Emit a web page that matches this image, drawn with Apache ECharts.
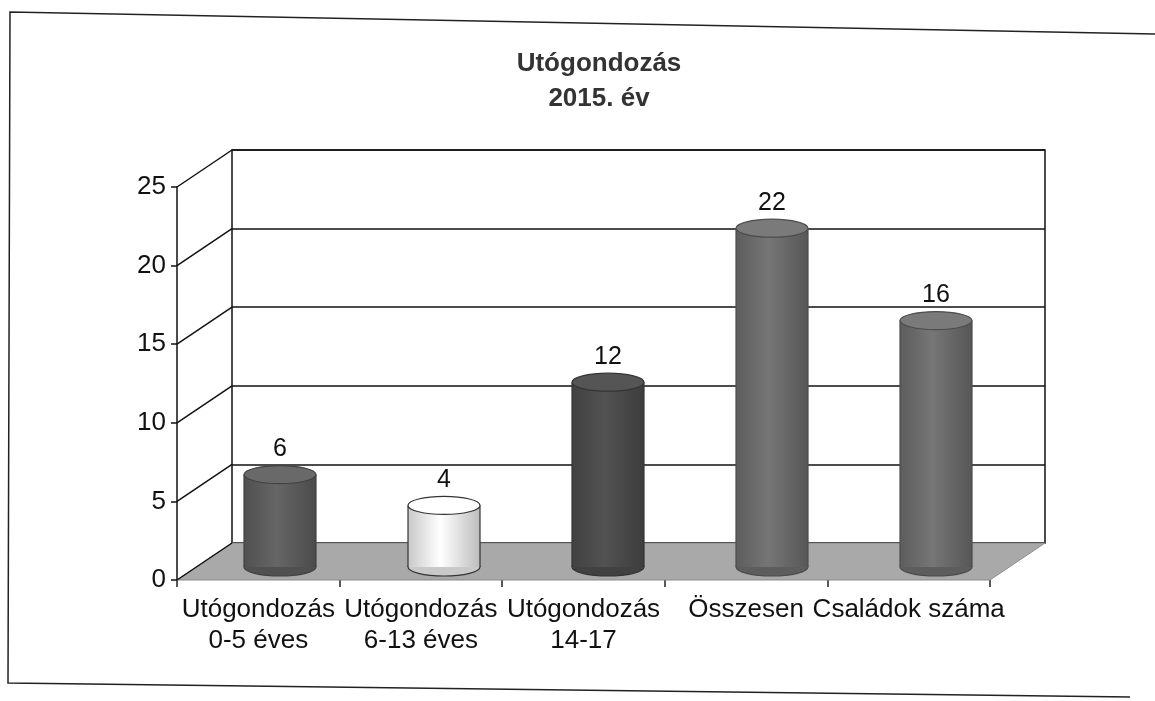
<!DOCTYPE html>
<html>
<head>
<meta charset="utf-8">
<script src="https://cdn.jsdelivr.net/npm/echarts@6/dist/echarts.min.js"></script>
<style>
  html, body { margin: 0; padding: 0; background: #fff; }
  #chart { width: 1155px; height: 701px; }
</style>
</head>
<body>
<div id="chart"></div>
<script>
const categories = ['Utógondozás\n0-5 éves', 'Utógondozás\n6-13 éves', 'Utógondozás\n14-17', 'Összesen', 'Családok száma'];
const values = [6, 4, 12, 22, 16];
const yTicks = [0, 5, 10, 15, 20, 25];
const barColors = ['#5e5e5e', '#ececec', '#4c4c4c', '#6d6d6d', '#6d6d6d'];

// depth offset of the back wall (3d look)
const DX = 55, DY = -37;
const FONT = '"Liberation Sans", Arial, sans-serif';

var myChart = echarts.init(document.getElementById('chart'));

function shade(hex, k) {
  var n = parseInt(hex.slice(1), 16);
  var r = Math.round(((n >> 16) & 255) * k), g = Math.round(((n >> 8) & 255) * k), b = Math.round((n & 255) * k);
  r = Math.min(255, r); g = Math.min(255, g); b = Math.min(255, b);
  return 'rgb(' + r + ',' + g + ',' + b + ')';
}

var option = {
  animation: false,
  title: {
    text: 'Utógondozás\n2015. év',
    left: 594,
    top: 41,
    textAlign: 'center',
    textStyle: { fontFamily: FONT, fontSize: 26, fontWeight: 'bold', color: '#333', lineHeight: 35 }
  },
  graphic: [{
    type: 'polyline',
    shape: { points: [[1155, 34], [10, 12], [8, 683], [1130, 697]] },
    style: { stroke: '#222', lineWidth: 1.5, fill: null },
    z: 0
  }],
  grid: [
    // back wall
    { left: 232, right: 110, top: 150, bottom: 158, show: true, borderColor: '#111', borderWidth: 1.5, backgroundColor: 'transparent' },
    // front axes
    { left: 177, right: 165, top: 187, bottom: 121 },
    // cylinders (middle depth)
    { left: 198, right: 137, top: 182, bottom: 134 }
  ],
  xAxis: [
    { gridIndex: 0, type: 'category', data: categories, show: false },
    {
      gridIndex: 1, type: 'category', data: categories,
      axisLine: { show: false },
      axisTick: { show: true, length: 7, lineStyle: { color: '#222', width: 1.5 } },
      axisLabel: { interval: 0, margin: 14, fontFamily: FONT, fontSize: 26, lineHeight: 31, color: '#111' }
    },
    { gridIndex: 2, type: 'category', data: categories, show: false }
  ],
  yAxis: [
    {
      gridIndex: 0, type: 'value', min: 0, max: 25, interval: 5,
      axisLine: { show: false }, axisTick: { show: false }, axisLabel: { show: false },
      splitLine: { show: true, lineStyle: { color: '#111', width: 1.5 } }
    },
    {
      gridIndex: 1, type: 'value', min: 0, max: 25, interval: 5,
      axisLine: { show: true, lineStyle: { color: '#111', width: 1.5 } },
      axisTick: { show: true, length: 6, lineStyle: { color: '#111', width: 1.5 } },
      axisLabel: { margin: 11, fontFamily: FONT, fontSize: 26, color: '#111' },
      splitLine: { show: false }
    },
    { gridIndex: 2, type: 'value', min: 0, max: 25, interval: 5, show: false, splitLine: { show: false } }
  ],
  series: [
    {
      // floor
      type: 'custom', xAxisIndex: 1, yAxisIndex: 1, z: 2, silent: true,
      data: [[0, 0]],
      renderItem: function (params, api) {
        var cs = params.coordSys;
        var y0 = api.coord([0, 0])[1];
        return {
          type: 'polygon',
          shape: { points: [[cs.x, y0], [cs.x + cs.width, y0], [cs.x + cs.width + DX, y0 + DY], [cs.x + DX, y0 + DY]] },
          style: { fill: '#a9a9a9', stroke: '#8a8a8a', lineWidth: 1 }
        };
      }
    },
    {
      // connectors from front axis ticks to back wall
      type: 'custom', xAxisIndex: 1, yAxisIndex: 1, z: 3, silent: true,
      data: yTicks.map(function (v) { return [0, v]; }),
      renderItem: function (params, api) {
        var cs = params.coordSys;
        var y = api.coord([0, api.value(1)])[1];
        return {
          type: 'line',
          shape: { x1: cs.x, y1: y, x2: cs.x + DX, y2: y + DY },
          style: { stroke: '#111', lineWidth: 1.5 }
        };
      }
    },
    {
      // cylinders
      type: 'custom', xAxisIndex: 2, yAxisIndex: 2, z: 4,
      data: values.map(function (v, i) { return [i, v]; }),
      renderItem: function (params, api) {
        var i = api.value(0), v = api.value(1);
        var top = api.coord([i, v]);
        var base = api.coord([i, 0]);
        var rx = 36, ry = 9;
        var c = barColors[i];
        var edge = i === 1 ? '#333' : shade(c, 0.7);
        var grad = new echarts.graphic.LinearGradient(0, 0, 1, 0, [
          { offset: 0, color: shade(c, 0.85) },
          { offset: 0.45, color: shade(c, 1.08) },
          { offset: 1, color: shade(c, 0.8) }
        ]);
        return {
          type: 'group',
          children: [
            { type: 'ellipse', shape: { cx: base[0], cy: base[1], rx: rx, ry: ry }, style: { fill: shade(c, 0.85), stroke: edge, lineWidth: 1.2 } },
            { type: 'rect', shape: { x: base[0] - rx, y: top[1], width: rx * 2, height: base[1] - top[1] }, style: { fill: grad, stroke: null } },
            { type: 'line', shape: { x1: base[0] - rx, y1: top[1], x2: base[0] - rx, y2: base[1] }, style: { stroke: edge, lineWidth: 1.2 } },
            { type: 'line', shape: { x1: base[0] + rx, y1: top[1], x2: base[0] + rx, y2: base[1] }, style: { stroke: edge, lineWidth: 1.2 } },
            { type: 'ellipse', shape: { cx: top[0], cy: top[1], rx: rx, ry: ry }, style: { fill: shade(c, 1.12), stroke: edge, lineWidth: 1.2 } },
            {
              type: 'text',
              style: {
                text: String(v), x: top[0], y: top[1] - ry - 4,
                align: 'center', verticalAlign: 'bottom',
                font: '25px ' + FONT, fill: '#111'
              }
            }
          ]
        };
      }
    }
  ]
};

myChart.setOption(option);
</script>
</body>
</html>
